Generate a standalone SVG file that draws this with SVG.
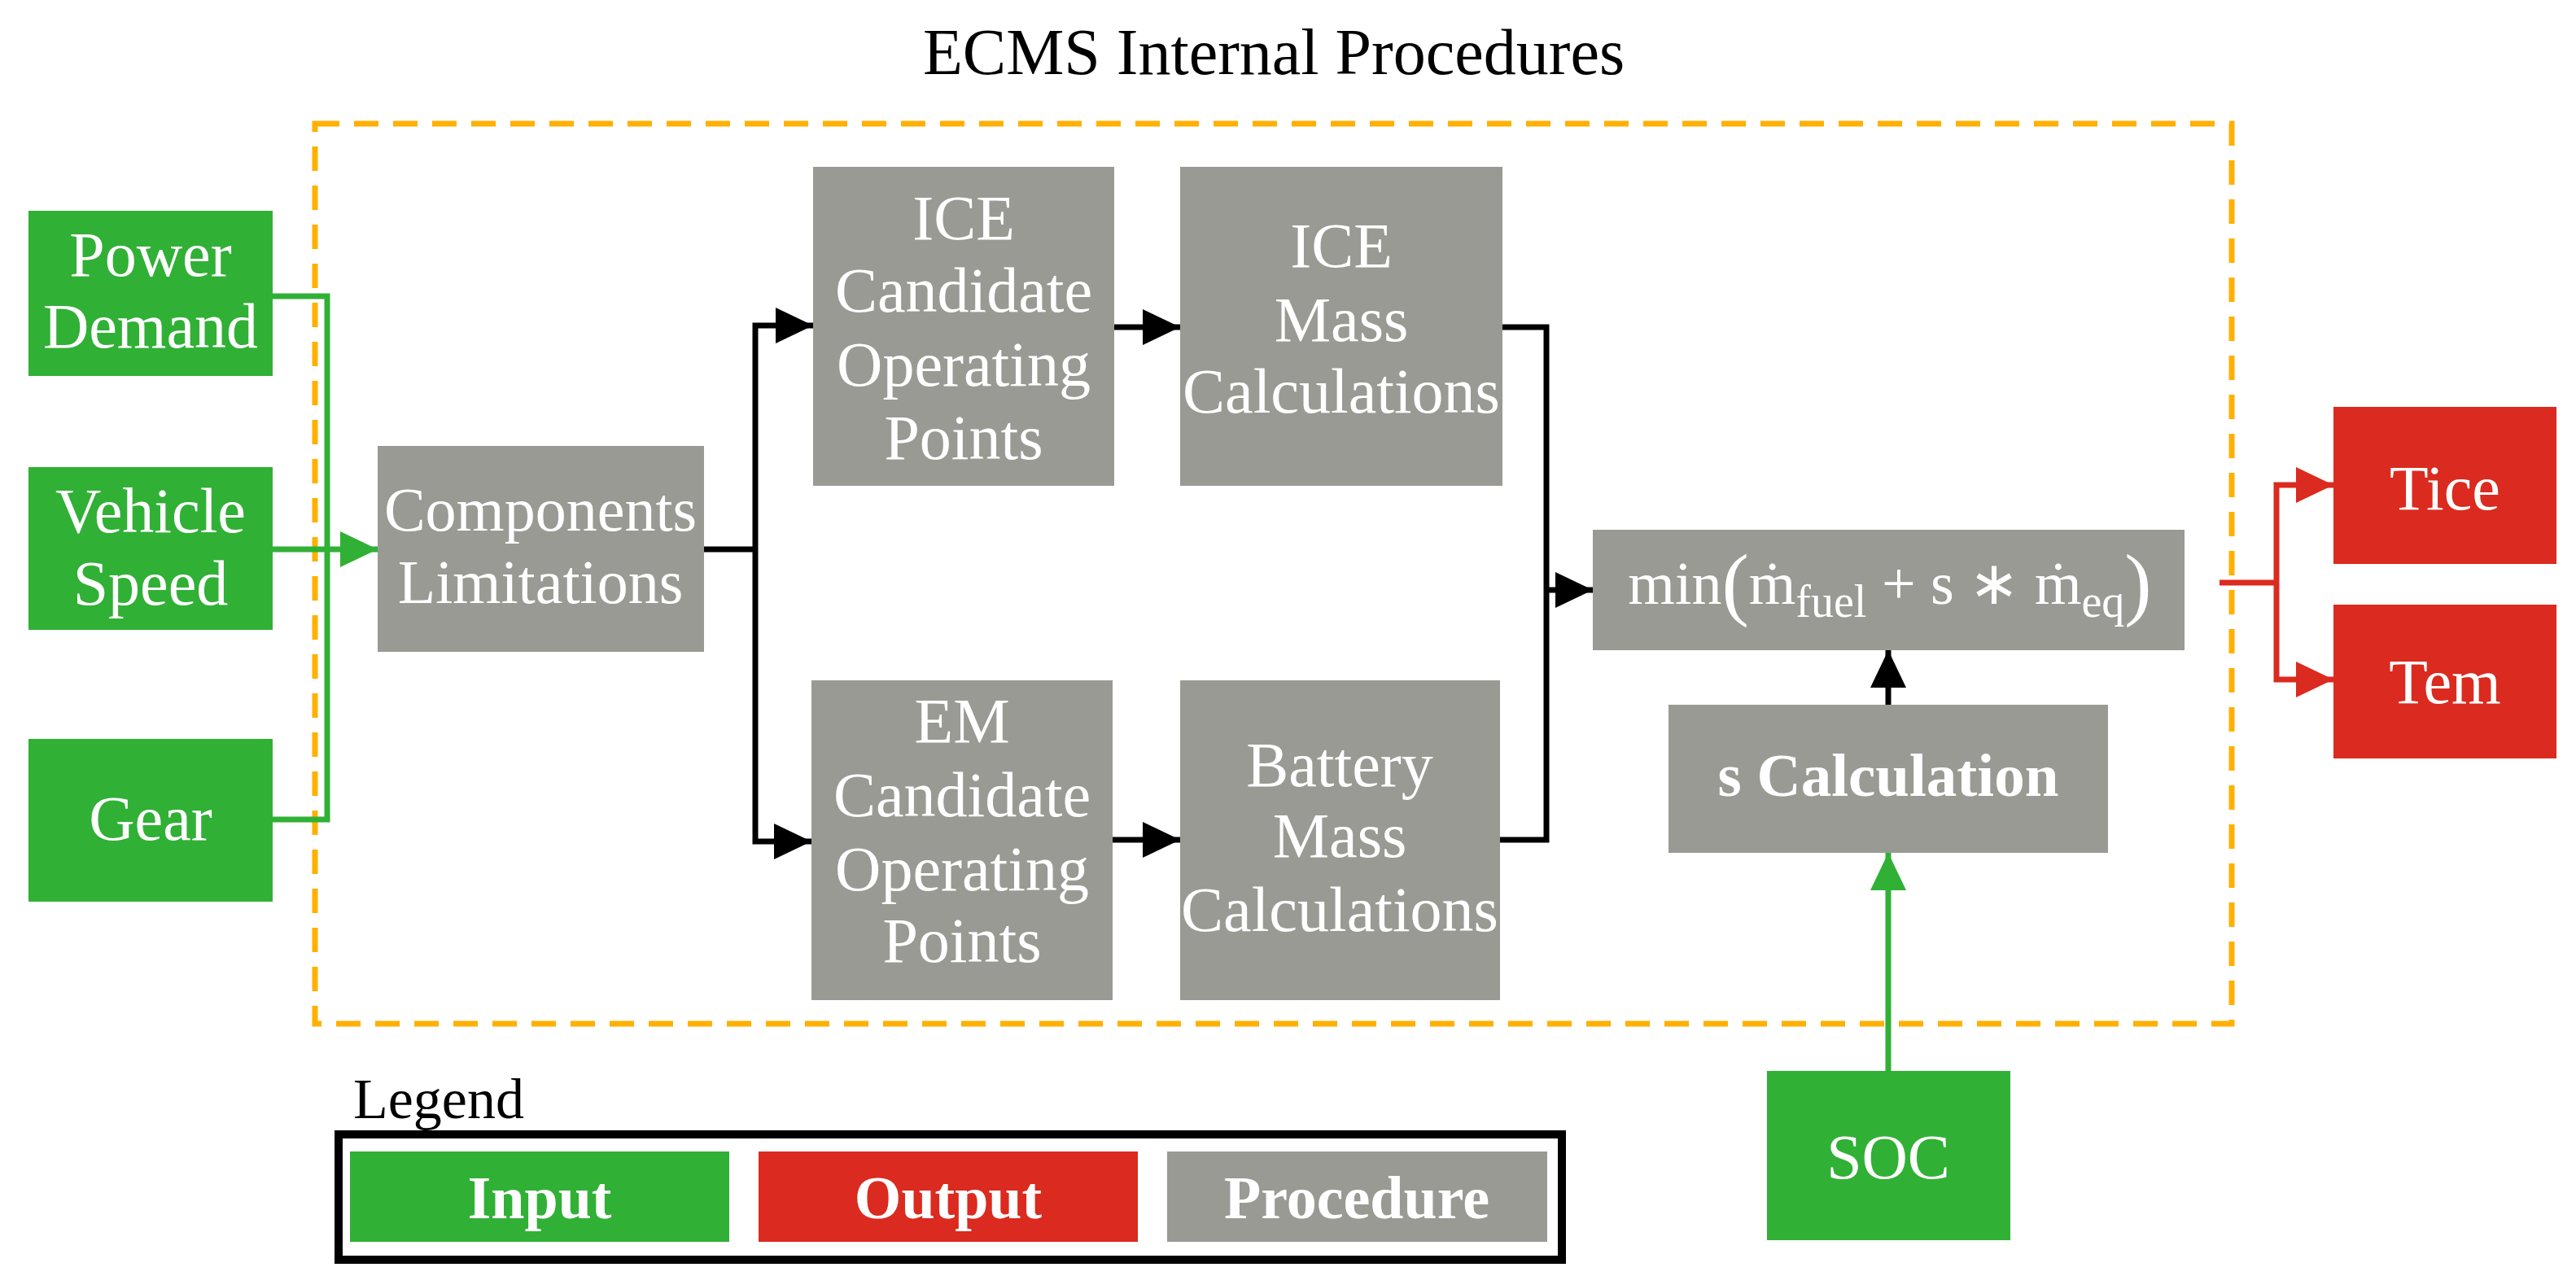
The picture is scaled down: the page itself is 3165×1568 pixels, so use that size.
<svg xmlns="http://www.w3.org/2000/svg" width="3165" height="1568" viewBox="0 0 3165 1568">
<style>
.g{fill:#31B036}.r{fill:#DB2A1F}.p{fill:#9A9A95}
text{font-family:"Liberation Serif","Times New Roman",serif;fill:#fff;text-anchor:middle;font-size:78px}
.b{font-weight:bold}
.cn{fill:none;stroke-width:7}
</style>
<defs>
<marker id="ak" markerUnits="userSpaceOnUse" markerWidth="50" markerHeight="50" refX="46" refY="22" orient="auto"><path d="M0,0L46,22L0,44z" fill="#000"/></marker>
<marker id="ag" markerUnits="userSpaceOnUse" markerWidth="50" markerHeight="50" refX="46" refY="22" orient="auto"><path d="M0,0L46,22L0,44z" fill="#31B036"/></marker>
<marker id="ar" markerUnits="userSpaceOnUse" markerWidth="50" markerHeight="50" refX="46" refY="22" orient="auto"><path d="M0,0L46,22L0,44z" fill="#DB2A1F"/></marker>
</defs>
<rect width="3165" height="1568" fill="#fff"/>
<text x="1565" y="91" style="fill:#000;font-size:80px">ECMS Internal Procedures</text>
<rect x="387" y="152" width="2355" height="1106" fill="none" stroke="#FFB000" stroke-width="7" stroke-dasharray="30 18"/>

<g id="power"><rect class="g" x="35" y="259" width="300" height="203"/><text x="185" y="339">Power</text><text x="185" y="427">Demand</text></g>
<g id="speed"><rect class="g" x="35" y="574" width="300" height="200"/><text x="185" y="654">Vehicle</text><text x="185" y="743">Speed</text></g>
<g id="gear"><rect class="g" x="35" y="908" width="300" height="200"/><text x="185" y="1032">Gear</text></g>
<g id="comp"><rect class="p" x="464" y="548" width="401" height="253"/><text x="664" y="652" style="font-size:76px">Components</text><text x="664" y="741" style="font-size:76px">Limitations</text></g>
<g id="icecand"><rect class="p" x="999" y="205" width="370" height="392"/><text x="1184" y="294">ICE</text><text x="1184" y="383">Candidate</text><text x="1184" y="474">Operating</text><text x="1184" y="564">Points</text></g>
<g id="icemass"><rect class="p" x="1450" y="205" width="396" height="392"/><text x="1648" y="328">ICE</text><text x="1648" y="419">Mass</text><text x="1648" y="507">Calculations</text></g>
<g id="emcand"><rect class="p" x="997" y="836" width="370" height="393"/><text x="1182" y="912">EM</text><text x="1182" y="1003">Candidate</text><text x="1182" y="1094">Operating</text><text x="1182" y="1182">Points</text></g>
<g id="batt"><rect class="p" x="1450" y="836" width="393" height="393"/><text x="1646" y="966">Battery</text><text x="1646" y="1053">Mass</text><text x="1646" y="1144">Calculations</text></g>
<g id="min"><rect class="p" x="1957" y="651" width="727" height="148"/><text x="2322" y="742" style="font-size:74px">min<tspan font-size="100" dy="8">(</tspan><tspan dy="-8">ṁ</tspan><tspan font-size="56" dy="16">fuel</tspan><tspan dy="-16"> + s ∗ ṁ</tspan><tspan font-size="56" dy="16">eq</tspan><tspan font-size="100" dy="-8">)</tspan></text></g>
<g id="scalc"><rect class="p" x="2050" y="866" width="540" height="182"/><text class="b" x="2320" y="978" style="font-size:75px">s Calculation</text></g>
<g id="soc"><rect class="g" x="2171" y="1316" width="299" height="208"/><text x="2320" y="1448">SOC</text></g>
<g id="tice"><rect class="r" x="2867" y="500" width="274" height="193"/><text x="3004" y="626">Tice</text></g>
<g id="tem"><rect class="r" x="2867" y="743" width="274" height="189"/><text x="3004" y="864">Tem</text></g>

<g id="connectors">
<path class="cn" stroke="#31B036" stroke-width="6" d="M335,364H402V1007H335"/>
<path class="cn" stroke="#31B036" stroke-width="6" d="M335,675H464" marker-end="url(#ag)"/>
<path class="cn" stroke="#000" d="M865,675H928"/>
<path class="cn" stroke="#000" d="M928,675V400H999" marker-end="url(#ak)"/>
<path class="cn" stroke="#000" d="M928,675V1034H997" marker-end="url(#ak)"/>
<path class="cn" stroke="#000" d="M1369,402H1450" marker-end="url(#ak)"/>
<path class="cn" stroke="#000" d="M1367,1032H1450" marker-end="url(#ak)"/>
<path class="cn" stroke="#000" d="M1846,402H1900V1032H1843"/>
<path class="cn" stroke="#000" d="M1900,725H1957" marker-end="url(#ak)"/>
<path class="cn" stroke="#000" d="M2320,866V799" marker-end="url(#ak)"/>
<path class="cn" stroke="#31B036" stroke-width="6" d="M2320,1316V1048" marker-end="url(#ag)"/>
<path class="cn" stroke="#DB2A1F" d="M2727,716H2797"/>
<path class="cn" stroke="#DB2A1F" d="M2797,716V596H2867" marker-end="url(#ar)"/>
<path class="cn" stroke="#DB2A1F" d="M2797,716V835H2867" marker-end="url(#ar)"/>
</g>

<g id="legend">
<text x="434" y="1374" style="fill:#000;font-size:70px;text-anchor:start">Legend</text>
<rect x="416" y="1394" width="1503" height="154" fill="none" stroke="#000" stroke-width="10"/>
<rect class="g" x="430" y="1415" width="466" height="111"/><text class="b" x="663" y="1497" style="font-size:74px">Input</text>
<rect class="r" x="932" y="1415" width="466" height="111"/><text class="b" x="1165" y="1497" style="font-size:74px">Output</text>
<rect class="p" x="1434" y="1415" width="467" height="111"/><text class="b" x="1667" y="1497" style="font-size:74px">Procedure</text>
</g>
</svg>
